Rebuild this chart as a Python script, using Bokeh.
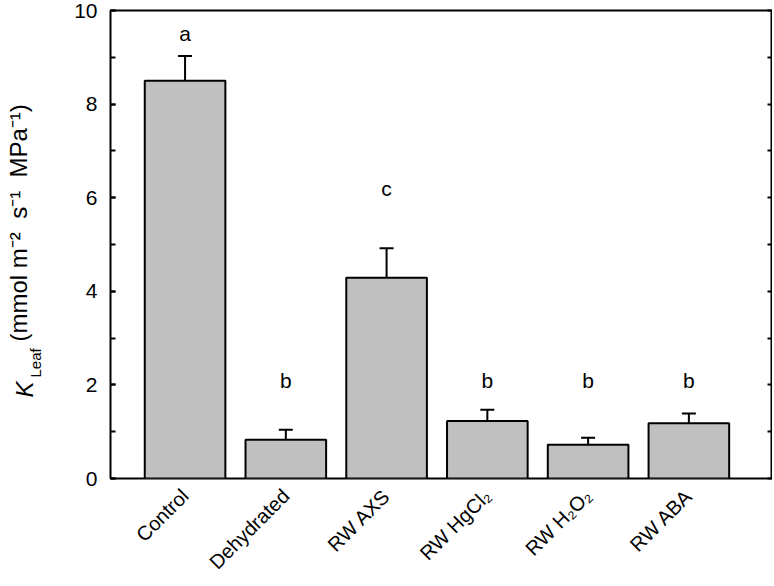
import math
from bokeh.plotting import figure
from bokeh.models import (ColumnDataSource, Range1d, FixedTicker, SingleIntervalTicker,
                          LinearAxis, Whisker, TeeHead, Label, CustomJSTickFormatter)
from bokeh.core.properties import value
from bokeh.embed import file_html
from bokeh.resources import INLINE

categories = ["Control", "Dehydrated", "RW AXS", "RW HgCl\u2082", "RW H\u2082O\u2082", "RW ABA"]
kleaf_mean = [8.50, 0.83, 4.29, 1.23, 0.72, 1.18]
kleaf_se = [0.53, 0.21, 0.63, 0.24, 0.15, 0.21]
sig_letters = ["a", "b", "c", "b", "b", "b"]
letter_y = [9.5, 2.1, 6.2, 2.1, 2.1, 2.1]

xs = list(range(len(categories)))
src = ColumnDataSource(dict(
    x=xs, top=kleaf_mean,
    upper=[m + e for m, e in zip(kleaf_mean, kleaf_se)],
    lower=kleaf_mean,
    letter=sig_letters, ly=letter_y,
))

FONT = "Liberation Sans"

p = figure(width=772, height=584, output_backend="svg", toolbar_location=None,
           x_range=Range1d(-0.74, len(categories) - 1 + 0.83), y_range=Range1d(0, 10),
           min_border_left=99, min_border_right=0, min_border_top=10, min_border_bottom=103)
p.grid.visible = False
p.outline_line_color = "black"
p.outline_line_width = 2
p.background_fill_color = "white"
p.border_fill_color = "white"

p.vbar(x="x", top="top", bottom=0, width=0.8, source=src,
       fill_color="#c0c0c0", line_color="black", line_width=2)

w = Whisker(base="x", upper="upper", lower="lower", source=src, dimension="height",
            line_color="black", line_width=2,
            upper_head=TeeHead(size=14, line_width=2, line_color="black"), lower_head=None)
p.add_layout(w)

p.text(x="x", y="ly", text="letter", source=src, text_align="center", text_baseline="middle",
       text_font=value(FONT), text_font_size="21px", text_color="black")

# bottom axis
xa = p.xaxis[0]
xa.ticker = FixedTicker(ticks=xs)
xa.major_label_overrides = {i: c for i, c in zip(xs, categories)}
xa.major_label_orientation = math.pi / 4
xa.major_tick_in = 0
xa.major_tick_out = 0
xa.minor_tick_in = 0
xa.minor_tick_out = 0
xa.axis_line_color = None
xa.major_label_text_font = FONT
xa.major_label_text_font_size = "20px"
xa.major_label_text_color = "black"
xa.major_label_standoff = 14

# left axis
ya = p.yaxis[0]
ya.ticker = SingleIntervalTicker(interval=2, num_minor_ticks=2)
ya.axis_line_color = None
ya.major_tick_in = 5
ya.major_tick_out = 0
ya.minor_tick_in = 5
ya.minor_tick_out = 0
ya.major_tick_line_width = 2
ya.minor_tick_line_width = 2
ya.major_label_text_font = FONT
ya.major_label_text_font_size = "21px"
ya.major_label_text_color = "black"
ya.major_label_standoff = 13

# right axis (ticks only)
ra = LinearAxis(ticker=SingleIntervalTicker(interval=1, num_minor_ticks=0),
                axis_line_color=None, major_tick_in=5, major_tick_out=0,
                minor_tick_in=0, minor_tick_out=0, major_tick_line_width=2,
                formatter=CustomJSTickFormatter(code="return ''"),
                major_label_standoff=0)
p.add_layout(ra, "right")

# y-axis title pieces, each placed in the left side panel
p.add_layout(Label(x=-20, y=81, x_units="screen", y_units="screen", text="K", angle=math.pi / 2,
                   text_font=FONT, text_font_style="italic", text_font_size="24px",
                   text_baseline="alphabetic", text_align="left", text_color="black"), "left")
p.add_layout(Label(x=8, y=101, x_units="screen", y_units="screen", text="Leaf", angle=math.pi / 2,
                   text_font=FONT, text_font_size="15px",
                   text_baseline="alphabetic", text_align="left", text_color="black"), "left")
p.add_layout(Label(x=18, y=137, x_units="screen", y_units="screen",
                   text="(mmol m\u207b\u00b2 \u00a0s\u207b\u00b9 \u00a0MPa\u207b\u00b9)", angle=math.pi / 2,
                   text_font=FONT, text_font_size="24px",
                   text_baseline="alphabetic", text_align="left", text_color="black"), "left")

open("out.html", "w").write(file_html(p, INLINE))
